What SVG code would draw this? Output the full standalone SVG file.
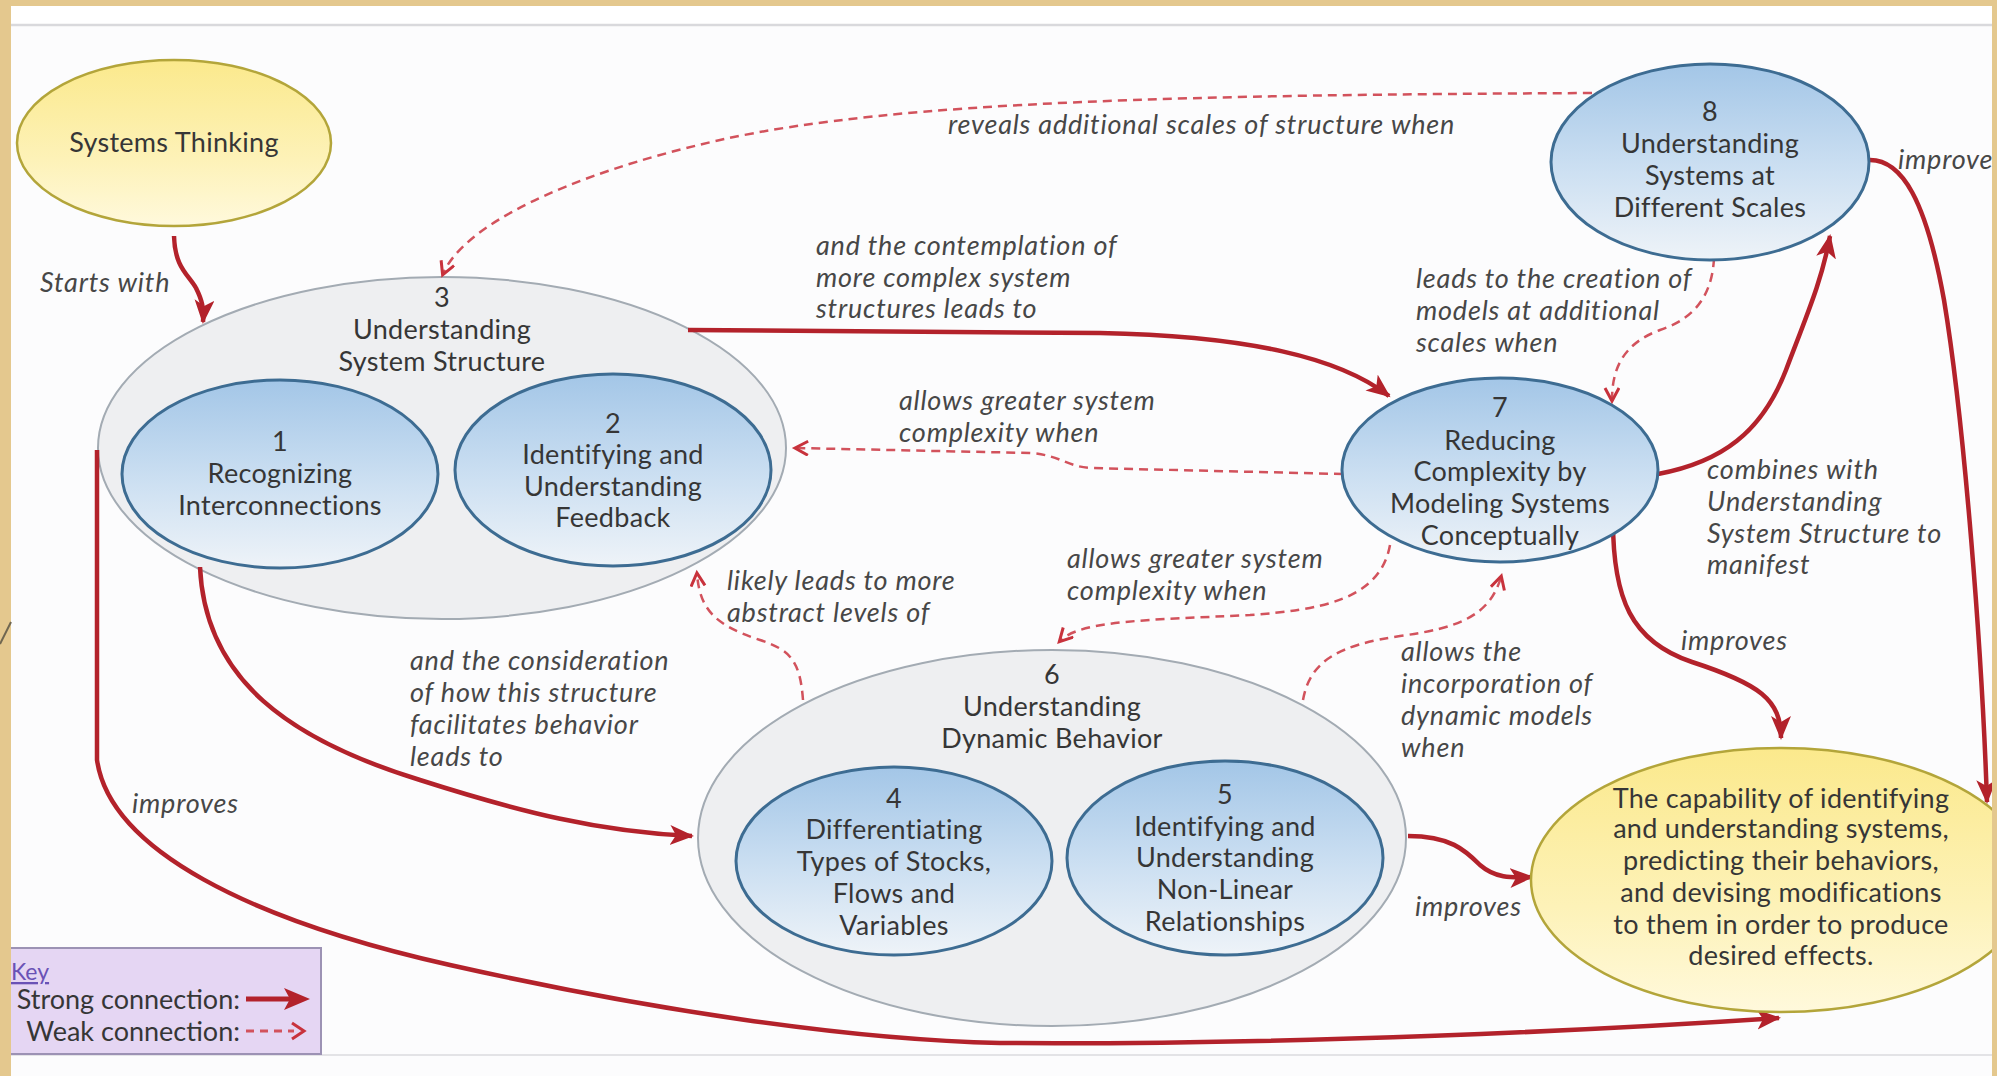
<svg xmlns="http://www.w3.org/2000/svg" width="1997" height="1076" viewBox="0 0 1997 1076">
  <style>
    .node-text { font-family: Lato, "Liberation Sans", sans-serif; font-size: 27px; letter-spacing: 0.3px; fill: #363636; text-anchor: middle; }
    .label { font-family: Lato, "Liberation Sans", sans-serif; font-size: 27px; letter-spacing: 0.8px; font-style: italic; fill: #474747; }
    .blue { fill: url(#blueFill); stroke: #3d6c92; stroke-width: 3; }
    .group { fill: #eeeff1; stroke: #a3abb3; stroke-width: 2; }
    .yellow { fill: url(#yellowFill); stroke: #b3a53a; stroke-width: 2.5; }
    .strong { fill: none; stroke: #b3222b; stroke-width: 4.5; marker-end: url(#strongHead); }
    .weak { fill: none; stroke: #d2525c; stroke-width: 2.5; stroke-dasharray: 9 6; marker-end: url(#weakHead); }
    .key-text { font-family: Lato, "Liberation Sans", sans-serif; font-size: 27px; fill: #363636; text-anchor: end; }
  </style>
  <defs>
    <linearGradient id="blueFill" x1="0" y1="0" x2="0" y2="1">
      <stop offset="0" stop-color="#a3c6e7"/>
      <stop offset="0.55" stop-color="#cde0f2"/>
      <stop offset="1" stop-color="#eef3f8"/>
    </linearGradient>
    <linearGradient id="yellowFill" x1="0" y1="0" x2="0" y2="1">
      <stop offset="0" stop-color="#fbe98c"/>
      <stop offset="0.6" stop-color="#fdf2b8"/>
      <stop offset="1" stop-color="#fff9dc"/>
    </linearGradient>
    <marker id="strongHead" markerUnits="userSpaceOnUse" markerWidth="26" markerHeight="22" refX="22" refY="10" orient="auto">
      <path d="M0,0 L24,10 L0,20 L6,10 z" fill="#b3222b"/>
    </marker>
    <marker id="weakHead" markerUnits="userSpaceOnUse" markerWidth="18" markerHeight="18" refX="13" refY="8" orient="auto">
      <path d="M1,1 L14,8 L1,15" fill="none" stroke="#c8323c" stroke-width="3"/>
    </marker>
  </defs>

  <!-- slide backdrop -->
  <rect x="0" y="0" width="1997" height="1076" fill="#fcfcfd"/>
  <rect x="0" y="0" width="1997" height="25" fill="#ffffff"/>
  <line x1="11" y1="25" x2="1992" y2="25" stroke="#d9d9dc" stroke-width="2.5"/>
  <line x1="11" y1="1055" x2="1992" y2="1055" stroke="#e3e3e6" stroke-width="2"/>

  <!-- containers -->
  <g id="node-3">
    <ellipse class="group" cx="442" cy="448" rx="344" ry="171"/>
    <text class="node-text" x="442" y="307">3</text>
    <text class="node-text" x="442" y="339">Understanding</text>
    <text class="node-text" x="442" y="371">System Structure</text>
  </g>
  <g id="node-6">
    <ellipse class="group" cx="1052" cy="838" rx="354" ry="188"/>
    <text class="node-text" x="1052" y="684">6</text>
    <text class="node-text" x="1052" y="716">Understanding</text>
    <text class="node-text" x="1052" y="748">Dynamic Behavior</text>
  </g>

  <!-- connectors -->
  <g id="connectors">
    <path class="strong" d="M174,236 C175,268 188,274 196,288 C202,300 204,308 203,322"/>
    <path class="strong" d="M688,330 L1100,333 C1250,336 1340,358 1389,396"/>
    <path class="weak" d="M1592,93 C1200,95 900,100 720,140 C560,176 462,228 443,274"/>
    <path class="weak" d="M1714,258 C1712,300 1690,320 1660,330 C1622,344 1612,370 1612,400"/>
    <path class="strong" d="M1658,474 C1722,462 1762,432 1786,370 C1808,312 1822,280 1830,236"/>
    <path class="strong" d="M1870,160 C1902,160 1926,200 1944,300 C1964,420 1982,650 1987,802"/>
    <path class="strong" d="M1613,515 C1612,600 1632,642 1692,662 C1760,684 1781,700 1781,738"/>
    <path class="strong" d="M200,567 C205,680 290,740 420,780 C520,812 600,832 692,836"/>
    <path class="strong" d="M97,450 L97,760 C110,850 250,920 450,965 C650,1010 850,1040 1000,1043 C1300,1045 1600,1030 1779,1018"/>
    <path class="strong" d="M1408,836 C1450,836 1465,850 1480,865 C1495,878 1510,878 1532,877"/>
    <path class="weak" d="M1343,474 L1090,468 C1065,466 1060,455 1030,453 L796,448"/>
    <path class="weak" d="M1390,545 C1380,600 1320,610 1250,615 C1150,620 1080,620 1060,641"/>
    <path class="weak" d="M1303,700 C1310,660 1340,645 1400,636 C1460,628 1490,615 1501,577"/>
    <path class="weak" d="M803,700 C800,660 790,650 760,640 C715,625 700,610 697,574"/>
  </g>

  <!-- connector labels -->
  <g id="labels">
    <text class="label" x="40" y="292">Starts with</text>
    <text class="label" x="948" y="134">reveals additional scales of structure when</text>
    <text class="label" x="816" y="255">and the contemplation of</text>
    <text class="label" x="816" y="287">more complex system</text>
    <text class="label" x="816" y="318">structures leads to</text>
    <text class="label" x="1416" y="288">leads to the creation of</text>
    <text class="label" x="1416" y="320">models at additional</text>
    <text class="label" x="1416" y="352">scales when</text>
    <text class="label" x="1898" y="169">improve</text>
    <text class="label" x="899" y="410">allows greater system</text>
    <text class="label" x="899" y="442">complexity when</text>
    <text class="label" x="1707" y="479">combines with</text>
    <text class="label" x="1707" y="511">Understanding</text>
    <text class="label" x="1707" y="543">System Structure to</text>
    <text class="label" x="1707" y="574">manifest</text>
    <text class="label" x="727" y="590">likely leads to more</text>
    <text class="label" x="727" y="622">abstract levels of</text>
    <text class="label" x="1067" y="568">allows greater system</text>
    <text class="label" x="1067" y="600">complexity when</text>
    <text class="label" x="1681" y="650">improves</text>
    <text class="label" x="1401" y="661">allows the</text>
    <text class="label" x="1401" y="693">incorporation of</text>
    <text class="label" x="1401" y="725">dynamic models</text>
    <text class="label" x="1401" y="757">when</text>
    <text class="label" x="410" y="670">and the consideration</text>
    <text class="label" x="410" y="702">of how this structure</text>
    <text class="label" x="410" y="734">facilitates behavior</text>
    <text class="label" x="410" y="766">leads to</text>
    <text class="label" x="132" y="813">improves</text>
    <text class="label" x="1415" y="916">improves</text>
  </g>

  <!-- nodes -->
  <g id="systems-thinking">
    <ellipse class="yellow" cx="174" cy="143" rx="157" ry="83"/>
    <text class="node-text" x="174" y="152">Systems Thinking</text>
  </g>
  <g id="node-1">
    <ellipse class="blue" cx="280" cy="474" rx="158" ry="94"/>
    <text class="node-text" x="280" y="451">1</text>
    <text class="node-text" x="280" y="483">Recognizing</text>
    <text class="node-text" x="280" y="515">Interconnections</text>
  </g>
  <g id="node-2">
    <ellipse class="blue" cx="613" cy="470" rx="158" ry="96"/>
    <text class="node-text" x="613" y="433">2</text>
    <text class="node-text" x="613" y="464">Identifying and</text>
    <text class="node-text" x="613" y="496">Understanding</text>
    <text class="node-text" x="613" y="527">Feedback</text>
  </g>
  <g id="node-4">
    <ellipse class="blue" cx="894" cy="861" rx="158" ry="94"/>
    <text class="node-text" x="894" y="808">4</text>
    <text class="node-text" x="894" y="839">Differentiating</text>
    <text class="node-text" x="894" y="871">Types of Stocks,</text>
    <text class="node-text" x="894" y="903">Flows and</text>
    <text class="node-text" x="894" y="935">Variables</text>
  </g>
  <g id="node-5">
    <ellipse class="blue" cx="1225" cy="858" rx="158" ry="97"/>
    <text class="node-text" x="1225" y="804">5</text>
    <text class="node-text" x="1225" y="836">Identifying and</text>
    <text class="node-text" x="1225" y="867">Understanding</text>
    <text class="node-text" x="1225" y="899">Non-Linear</text>
    <text class="node-text" x="1225" y="931">Relationships</text>
  </g>
  <g id="node-7">
    <ellipse class="blue" cx="1500" cy="470" rx="158" ry="92"/>
    <text class="node-text" x="1500" y="417">7</text>
    <text class="node-text" x="1500" y="450">Reducing</text>
    <text class="node-text" x="1500" y="481">Complexity by</text>
    <text class="node-text" x="1500" y="513">Modeling Systems</text>
    <text class="node-text" x="1500" y="545">Conceptually</text>
  </g>
  <g id="node-8">
    <ellipse class="blue" cx="1710" cy="162" rx="159" ry="98"/>
    <text class="node-text" x="1710" y="121">8</text>
    <text class="node-text" x="1710" y="153">Understanding</text>
    <text class="node-text" x="1710" y="185">Systems at</text>
    <text class="node-text" x="1710" y="217">Different Scales</text>
  </g>
  <g id="goal">
    <ellipse class="yellow" cx="1781" cy="880" rx="250" ry="132"/>
    <text class="node-text" x="1781" y="808">The capability of identifying</text>
    <text class="node-text" x="1781" y="838">and understanding systems,</text>
    <text class="node-text" x="1781" y="870">predicting their behaviors,</text>
    <text class="node-text" x="1781" y="902">and devising modifications</text>
    <text class="node-text" x="1781" y="934">to them in order to produce</text>
    <text class="node-text" x="1781" y="965">desired effects.</text>
  </g>

  <!-- key -->
  <g id="key">
    <rect x="4" y="948" width="317" height="106" fill="#e5d6f3" stroke="#9c92b4" stroke-width="2"/>
    <text x="11" y="980" font-family="Lato, 'Liberation Sans', sans-serif" font-size="23" fill="#6a52b6" text-decoration="underline">Key</text>
    <text class="key-text" x="240" y="1009">Strong connection:</text>
    <text class="key-text" x="240" y="1041">Weak connection:</text>
    <line x1="246" y1="999" x2="292" y2="999" stroke="#b3222b" stroke-width="5"/>
    <path d="M284,988 L310,999 L284,1010 L290,999 z" fill="#b3222b"/>
    <line x1="246" y1="1031" x2="294" y2="1031" stroke="#d2525c" stroke-width="3" stroke-dasharray="8 6"/>
    <path d="M292,1023 L304,1031 L292,1039" fill="none" stroke="#c8323c" stroke-width="3"/>
  </g>

  <!-- wooden slide frame -->
  <rect x="0" y="0" width="1997" height="6" fill="#e4c88e"/>
  <rect x="0" y="0" width="11" height="1076" fill="#e4c88e"/>
  <rect x="1992" y="0" width="5" height="1076" fill="#e4c88e"/>
  <line x1="0" y1="644" x2="11" y2="622" stroke="#6f6650" stroke-width="2"/>
</svg>
